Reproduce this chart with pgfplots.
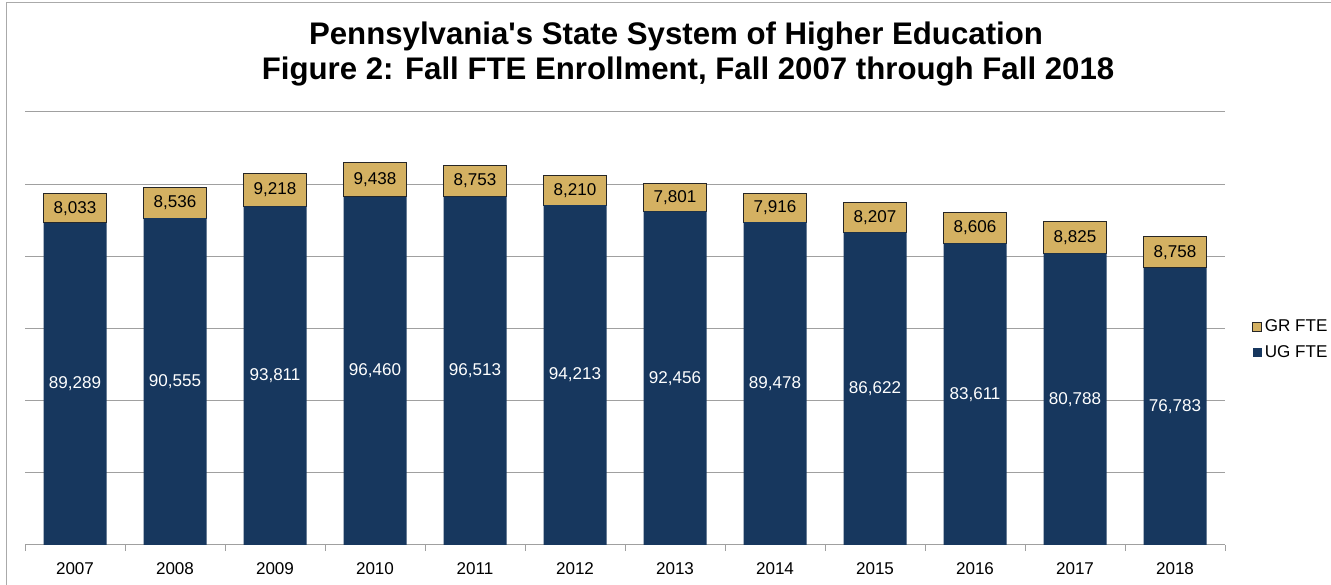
\documentclass[border=0pt]{standalone}
\usepackage{pgfplots}
\pgfplotsset{compat=1.18}
\usepackage{pgfplotstable}
\usepackage{fontspec}
\setmainfont{Liberation Sans}
\definecolor{ug}{RGB}{23,55,94}
\definecolor{gr}{RGB}{212,177,98}
\definecolor{gridc}{RGB}{160,160,160}
\definecolor{framec}{RGB}{170,170,170}

\pgfplotstableread{
x year ug gr
0 2007 89289 8033
1 2008 90555 8536
2 2009 93811 9218
3 2010 96460 9438
4 2011 96513 8753
5 2012 94213 8210
6 2013 92456 7801
7 2014 89478 7916
8 2015 86622 8207
9 2016 83611 8606
10 2017 80788 8825
11 2018 76783 8758
}\datatable

\newcommand\lblfont{\fontsize{12.8}{15}\selectfont}
\newcommand\ttlfont{\fontsize{23.4}{26}\selectfont\bfseries}

\pgfplotsset{common/.style={
  at={(18.75pt,30pt)}, anchor=south west,
  scale only axis, width=900pt, height=324.75pt,
  xmin=-0.5, xmax=11.5, ymin=0, ymax=120000,
  scaled y ticks=false,
  /pgf/number format/assume math mode=true,
  /pgf/number format/1000 sep={,},
}}

\begin{document}
\begin{tikzpicture}
\path[use as bounding box] (0pt,0pt) rectangle (998.25pt,438.75pt);
\draw[framec, line width=0.75pt] (4.5pt,0pt) -- (4.5pt,436.5pt) -- (998.25pt,436.5pt);
\node[font=\ttlfont, anchor=base, inner sep=0pt] at (507pt,405pt) {Pennsylvania\textquotesingle s State System of Higher Education};
\node[font=\ttlfont, anchor=base, inner sep=0pt] at (516pt,378.75pt) {Figure 2: Fall FTE Enrollment, Fall 2007 through Fall 2018};

\begin{axis}[common,
  ybar stacked, bar width=47.25pt,
  xtick={0,...,11},
  xticklabels={2007,2008,2009,2010,2011,2012,2013,2014,2015,2016,2017,2018},
  xticklabel style={font=\lblfont, yshift=-9.5pt},
  xtick pos=bottom,
  major tick length=0pt,
  minor xtick={-0.5,0.5,...,11.5},
  minor x tick style={gridc, line width=0.75pt},
  minor tick length=4.5pt,
  tick align=outside,
  ytick={0,20000,...,120000},
  yticklabels={},
  ytick style={draw=none},
  ymajorgrids,
  grid style={gridc, line width=0.75pt},
  axis line style={draw=none},
  reverse legend,
  legend cell align=left,
  legend style={at={(1.0225,0.474)}, anchor=west, draw=none, fill=none,
    font=\lblfont, row sep=7pt, inner sep=0pt,
    nodes={inner xsep=2pt, inner ysep=1pt}},
]
\addplot[fill=ug, draw=none,
  legend image code/.code={\fill[ug] (0pt,-3.4pt) rectangle (6.8pt,3.4pt);}]
  table[x=x, y=ug]{\datatable};
\addlegendentry{UG FTE}
\addplot[fill=gr, draw=black!85, line width=0.75pt,
  legend image code/.code={\draw[fill=gr, draw=black!85, line width=0.6pt] (0pt,-3.4pt) rectangle (6.8pt,3.4pt);}]
  table[x=x, y=gr]{\datatable};
\addlegendentry{GR FTE}
\end{axis}

\begin{axis}[common, hide axis,
  nodes near coords,
  point meta=explicit,
  nodes near coords style={anchor=center, font=\lblfont, inner sep=0pt},
]
\addplot[draw=none, mark=none, nodes near coords style={text=white}]
  table[x=x, y expr=\thisrow{ug}/2, meta=ug]{\datatable};
\addplot[draw=none, mark=none, nodes near coords style={text=black}]
  table[x=x, y expr=\thisrow{ug}+\thisrow{gr}/2, meta=gr]{\datatable};
\end{axis}
\end{tikzpicture}
\end{document}
